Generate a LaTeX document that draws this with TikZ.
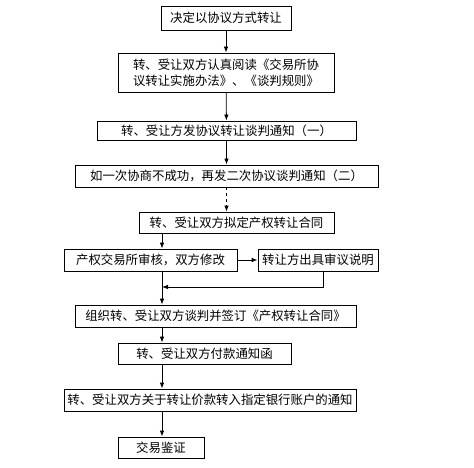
\documentclass[tikz,border=0pt]{standalone}
\usepackage{fontspec}
\newfontfamily\cjk{Noto Sans CJK SC}
\usetikzlibrary{arrows.meta}

\begin{document}
\begin{tikzpicture}[x=1pt, y=-1pt, stepbox/.style = {draw=black, line width=0.8pt, inner sep=1pt, align=center, font=\cjk\fontsize{12.4}{16}\selectfont},
	flow/.style = {-{Latex[length=6pt,width=4.5pt]}, line width=0.8pt}]
	\useasboundingbox (0,0) rectangle (474,468);
	% main column
	\node [stepbox, minimum width=130pt, minimum height=24pt] (decide) at (226,18) {决定以协议方式转让};
	\node [stepbox, minimum width=216pt, minimum height=39pt] (read) at (226,72.5) {转、受让双方认真阅读《交易所协\\议转让实施办法》、《谈判规则》};
	\node [stepbox, minimum width=259pt, minimum height=19pt] (notice1) at (226.5,130.5) {转、受让方发协议转让谈判通知（一）};
	\node [stepbox, minimum width=303pt, minimum height=22pt] (notice2) at (226.5,176) {如一次协商不成功，再发二次协议谈判通知（二）};
	\node [stepbox, minimum width=195pt, minimum height=21pt] (draft) at (236.5,222.5) {转、受让双方拟定产权转让合同};
	\node [stepbox, minimum width=173pt, minimum height=22pt] (review) at (150.5,260) {产权交易所审核，双方修改};
	\node [stepbox, minimum width=120pt, minimum height=22pt] (explain) at (318,260) {转让方出具审议说明};
	\node [stepbox, minimum width=281pt, minimum height=22pt] (sign) at (215.5,316) {组织转、受让双方谈判并签订《产权转让合同》};
	\node [stepbox, minimum width=173pt, minimum height=21pt] (pay) at (204.5,353.5) {转、受让双方付款通知函};
	\node [stepbox, minimum width=292pt, minimum height=22pt] (bank) at (210,400) {转、受让双方关于转让价款转入指定银行账户的通知};
	\node [stepbox, minimum width=86pt, minimum height=21pt] (verify) at (161,447.5) {交易鉴证};
	\coordinate (merge) at (162,287);
	% connectors
	\draw [flow] (decide) -- (read);
	\draw [flow] (read) -- (notice1);
	\draw [flow] (notice1) -- (notice2);
	\draw [flow, dashed] (notice2) -- (notice2.south |- draft.north);
	\draw [flow] (draft.south -| merge) -- (review.north -| merge);
	\draw [flow] (review) -- (explain);
	\draw [flow] ([xshift=5pt]explain.south) |- (merge);
	\draw [flow] (review.south -| merge) -- (sign.north -| merge);
	\draw [flow] (sign.south -| merge) -- (pay.north -| merge);
	\draw [flow] (pay.south -| merge) -- (bank.north -| merge);
	\draw [flow] (bank.south -| merge) -- (verify.north -| merge);
\end{tikzpicture}
\end{document}
